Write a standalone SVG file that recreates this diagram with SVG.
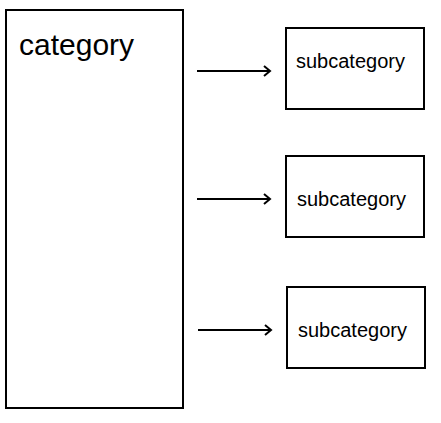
<svg xmlns="http://www.w3.org/2000/svg" width="441" height="423" viewBox="0 0 441 423">
<style>
.box{fill:#fff;stroke:#000;stroke-width:2}
.t{font-family:"Liberation Sans",Arial,sans-serif;fill:#000}
.sub{font-size:20px}
.cat{font-size:30px}
.ln{stroke:#000;stroke-width:2;fill:none}
</style>
<defs>
<marker id="ah" markerWidth="10" markerHeight="12" refX="8" refY="6" orient="auto" markerUnits="userSpaceOnUse">
<path d="M2,1 L8,6 L2,11" fill="none" stroke="#000" stroke-width="2"/>
</marker>
</defs>
<rect width="441" height="423" fill="#fff"/>
<g id="category">
<rect class="box" x="6" y="10" width="177" height="398"/>
<text class="t cat" x="19" y="55">category</text>
</g>
<g id="sub1">
<rect class="box" x="286" y="28" width="138" height="81"/>
<text class="t sub" x="296" y="68">subcategory</text>
</g>
<g id="sub2">
<rect class="box" x="286" y="156" width="138" height="81"/>
<text class="t sub" x="297" y="206">subcategory</text>
</g>
<g id="sub3">
<rect class="box" x="287" y="287" width="138" height="81"/>
<text class="t sub" x="298" y="337">subcategory</text>
</g>
<g id="connectors">
<line class="ln" x1="197" y1="71" x2="270" y2="71" marker-end="url(#ah)"/>
<line class="ln" x1="197" y1="199" x2="270" y2="199" marker-end="url(#ah)"/>
<line class="ln" x1="198" y1="330" x2="271" y2="330" marker-end="url(#ah)"/>
</g>
</svg>
